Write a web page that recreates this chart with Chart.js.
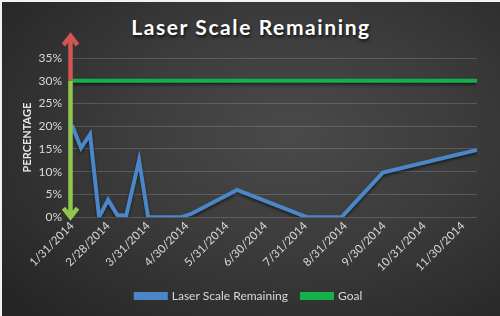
<!DOCTYPE html>
<html>
<head>
<meta charset="utf-8">
<script src="https://cdn.jsdelivr.net/npm/chart.js@4.4.1/dist/chart.umd.min.js"></script>
<style>
  html, body { margin:0; padding:0; background:#f2f2f2; }
  #wrap {
    position:relative; width:498px; height:314px; margin:2px 0 0 2px;
    background: radial-gradient(ellipse 75% 80% at 58% 42%, #4a4a4a 0%, #3c3c3c 45%, #252525 100%);
    overflow:hidden;
  }
  #title {
    position:absolute; left:0; right:0; top:12px; text-align:center;
    font: bold 21px Lato, "Open Sans", sans-serif; letter-spacing:1.6px;
    color:#fff; text-shadow: 1px 2px 3px rgba(0,0,0,.75);
  }
  canvas { position:absolute; left:-2px; top:-2px; }
</style>
</head>
<body>
<div id="wrap">
  <div id="title">Laser Scale Remaining</div>
  <canvas id="chart" width="500" height="316"></canvas>
</div>
<script>
// Datos (fechas y % restante)
const startDate = "2014-01-31";
const dates = ["2014-01-31","2014-02-07","2014-02-14","2014-02-21","2014-02-28","2014-03-07","2014-03-14",
               "2014-03-24","2014-03-31","2014-04-26","2014-05-04","2014-06-08","2014-08-01","2014-08-28",
               "2014-09-29","2014-12-11"];
const remaining = [20.2, 15.2, 18.2, 0, 3.8, 0.5, 0.3, 12.5, 0, 0, 0.8, 6, 0, 0, 9.8, 14.8];
const goalDates = ["2014-01-31","2014-12-11"];
const goalValues = [30, 30];
const tickDates = ["2014-01-31","2014-02-28","2014-03-31","2014-04-30","2014-05-31","2014-06-30",
                   "2014-07-31","2014-08-31","2014-09-30","2014-10-31","2014-11-30"];
const tickLabels = ["1/31/2014","2/28/2014","3/31/2014","4/30/2014","5/31/2014","6/30/2014",
                    "7/31/2014","8/31/2014","9/30/2014","10/31/2014","11/30/2014"];
const yTicks = [0, 5, 10, 15, 20, 25, 30, 35];

const dayOf = s => (Date.parse(s) - Date.parse(startDate)) / 86400000;

Chart.defaults.font.family = "Lato, 'Open Sans', sans-serif";
Chart.defaults.color = "#d9d9d9";

// sombra suave bajo las líneas
const lineShadow = {
  id: "lineShadow",
  beforeDatasetDraw(chart){ const c = chart.ctx; c.save(); c.shadowColor = "rgba(0,0,0,.55)"; c.shadowBlur = 3; c.shadowOffsetY = 2; },
  afterDatasetDraw(chart){ chart.ctx.restore(); }
};

// flechas roja / verde sobre el eje Y
const arrows = {
  id: "arrows",
  afterDatasetsDraw(chart){
    const c = chart.ctx, ys = chart.scales.y, a = chart.chartArea;
    const x = a.left - 1.5;
    const yGoal = ys.getPixelForValue(goalValues[0]);
    const yTop = a.top - 24;
    const yBot = ys.getPixelForValue(0) + 2;
    c.save();
    c.lineWidth = 4.5; c.lineCap = "butt"; c.lineJoin = "miter";
    c.strokeStyle = "#cf5651";
    c.beginPath(); c.moveTo(x, yGoal); c.lineTo(x, yTop + 2); c.stroke();
    c.beginPath(); c.moveTo(x - 7, yTop + 11); c.lineTo(x, yTop + 2); c.lineTo(x + 7, yTop + 11); c.stroke();
    c.strokeStyle = "#93c64c";
    c.beginPath(); c.moveTo(x, yGoal); c.lineTo(x, yBot - 2); c.stroke();
    c.beginPath(); c.moveTo(x - 7, yBot - 11); c.lineTo(x, yBot - 2); c.lineTo(x + 7, yBot - 11); c.stroke();
    c.restore();
  }
};

new Chart(document.getElementById("chart").getContext("2d"), {
  type: "line",
  data: {
    datasets: [
      { label: "Laser Scale Remaining", data: dates.map((d, i) => ({ x: dayOf(d), y: remaining[i] })),
        borderColor: "#4a86c8", backgroundColor: "#4a86c8", borderWidth: 4, pointRadius: 0, tension: 0 },
      { label: "Goal", data: goalDates.map((d, i) => ({ x: dayOf(d), y: goalValues[i] })),
        borderColor: "#14b04a", backgroundColor: "#14b04a", borderWidth: 4, pointRadius: 0 }
    ]
  },
  options: {
    responsive: false,
    animation: false,
    layout: { padding: { top: 58, left: 21, right: 23, bottom: 4 } },
    scales: {
      x: {
        type: "linear",
        min: 0, max: dayOf(dates[dates.length - 1]),
        afterBuildTicks: ax => { ax.ticks = tickDates.map(d => ({ value: dayOf(d) })); },
        ticks: { callback: (v, i) => tickLabels[i], minRotation: 45, maxRotation: 45, autoSkip: false,
                 padding: 2, font: { size: 11.5 }, color: "#d9d9d9" },
        grid: { display: false, drawTicks: false },
        border: { display: false }
      },
      y: {
        min: 0, max: 35,
        afterBuildTicks: ax => { ax.ticks = yTicks.map(v => ({ value: v })); },
        afterFit: ax => { ax.width = 51; },
        ticks: { callback: v => v + "%", padding: 10, font: { size: 12 }, color: "#d9d9d9" },
        grid: { color: "rgba(255,255,255,.16)", lineWidth: 1, drawTicks: false },
        border: { display: false },
        title: { display: true, text: "PERCENTAGE", color: "#e6e6e6", font: { size: 11, weight: "bold" }, padding: { top: 0, bottom: 4 } }
      }
    },
    plugins: {
      legend: {
        position: "bottom",
        labels: { boxWidth: 30, boxHeight: 4, padding: 14, font: { size: 12 }, color: "#d9d9d9" }
      },
      tooltip: { enabled: false }
    }
  },
  plugins: [lineShadow, arrows]
});
</script>
</body>
</html>
